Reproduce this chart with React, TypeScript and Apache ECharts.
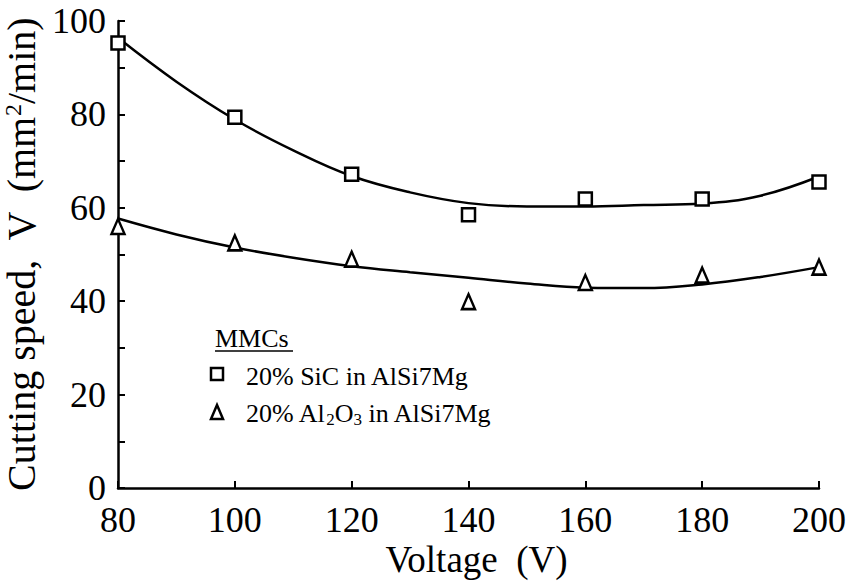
import React, { useEffect, useRef } from "react";
import * as echarts from "echarts";

const voltages = [80, 100, 120, 140, 160, 180, 200];
const sicMeasured = [95.3, 79.4, 67.2, 58.5, 61.9, 61.9, 65.5];
const al2o3Measured = [56.0, 52.5, 49.0, 39.9, 44.0, 45.6, 47.3];

const fitVoltages = [80, 90, 100, 110, 120, 130, 140, 150, 160, 170, 180, 190, 200];
const sicFit = [96.4, 87.0, 78.9, 72.3, 66.8, 63.3, 61.0, 60.3, 60.3, 60.6, 60.9, 62.6, 66.7];
const al2o3Fit = [57.7, 54.3, 51.5, 49.3, 47.5, 46.2, 45.0, 43.8, 42.9, 42.8, 43.6, 45.2, 47.3];

const xTicks = { min: 80, max: 200, interval: 20 };
const yTicks = { min: 0, max: 100, interval: 10, labelEvery: 20 };

const FONT = "Liberation Serif";

export default function App() {
  const ref = useRef<HTMLDivElement>(null);
  useEffect(() => {
    if (!ref.current) return;
    const chart = echarts.init(ref.current, null, { renderer: "svg" });
    const pair = (xs: number[], ys: number[]) => xs.map((x, i) => [x, ys[i]]);
    const markerStyle = { color: "#ffffff", borderColor: "#000000", borderWidth: 2.5, opacity: 1 };
    chart.setOption({
      animation: false,
      backgroundColor: "#ffffff",
      textStyle: { fontFamily: FONT, color: "#000" },
      grid: { left: 118, right: 29, top: 21, bottom: 95, containLabel: false, outerBoundsMode: "none" },
      xAxis: {
        type: "value",
        min: xTicks.min,
        max: xTicks.max,
        interval: xTicks.interval,
        name: "Voltage  (V)",
        nameLocation: "middle",
        nameGap: 53,
        nameMoveOverlap: false,
        nameTextStyle: { fontFamily: FONT, fontSize: 37, lineHeight: 37, color: "#000", padding: [0, 0, 0, 16] },
        axisLine: { show: true, onZero: false, lineStyle: { color: "#000", width: 2.5 } },
        axisTick: { show: true, inside: true, length: 7, lineStyle: { color: "#000", width: 2 } },
        axisLabel: { fontFamily: FONT, fontSize: 36, lineHeight: 30, color: "#000", margin: 17 },
        splitLine: { show: false },
      },
      yAxis: {
        type: "value",
        min: yTicks.min,
        max: yTicks.max,
        interval: yTicks.interval,
        name: "{a|Cutting speed,  V  (mm}{b|2}{a|/min)}",
        nameLocation: "middle",
        nameRotate: 90,
        nameGap: 64,
        nameTextStyle: {
          rich: {
            a: { fontFamily: FONT, fontSize: 40, color: "#000", lineHeight: 40 },
            b: { fontFamily: FONT, fontSize: 24, color: "#000", lineHeight: 24, verticalAlign: "top" },
          },
        },
        axisLine: { show: true, onZero: false, lineStyle: { color: "#000", width: 2.5 } },
        axisTick: { show: true, inside: true, length: 7, lineStyle: { color: "#000", width: 2 } },
        axisLabel: {
          fontFamily: FONT,
          fontSize: 36,
          color: "#000",
          margin: 12,
          formatter: (v: number) => (v % yTicks.labelEvery === 0 ? String(v) : ""),
        },
        splitLine: { show: false },
      },
      series: [
        {
          name: "SiC fit",
          type: "line",
          data: pair(fitVoltages, sicFit),
          smooth: 0.4,
          showSymbol: false,
          lineStyle: { color: "#000", width: 2.5 },
          z: 2,
        },
        {
          name: "Al2O3 fit",
          type: "line",
          data: pair(fitVoltages, al2o3Fit),
          smooth: 0.4,
          showSymbol: false,
          lineStyle: { color: "#000", width: 2.5 },
          z: 2,
        },
        {
          name: "20% SiC in AlSi7Mg",
          type: "scatter",
          data: pair(voltages, sicMeasured),
          symbol: "rect",
          symbolSize: 13,
          itemStyle: markerStyle,
          z: 3,
        },
        {
          name: "20% Al2O3 in AlSi7Mg",
          type: "scatter",
          data: pair(voltages, al2o3Measured),
          symbol: "triangle",
          symbolSize: [13, 15],
          itemStyle: markerStyle,
          z: 3,
        },
      ],
      graphic: [
        {
          type: "text",
          x: 215,
          y: 338,
          style: { text: "MMCs", fontFamily: FONT, fontSize: 26, fill: "#000", verticalAlign: "middle" },
        },
        {
          type: "line",
          shape: { x1: 215, y1: 351, x2: 293, y2: 351 },
          style: { stroke: "#000", lineWidth: 1.3 },
        },
        {
          type: "rect",
          shape: { x: 211, y: 368, width: 12, height: 12 },
          style: { fill: "#fff", stroke: "#000", lineWidth: 2.5 },
        },
        {
          type: "text",
          x: 246,
          y: 376,
          style: { text: "20% SiC in AlSi7Mg", fontFamily: FONT, fontSize: 26, fill: "#000", verticalAlign: "middle" },
        },
        {
          type: "polygon",
          shape: { points: [[217, 405], [211, 419], [223, 419]] },
          style: { fill: "#fff", stroke: "#000", lineWidth: 2.5 },
        },
        {
          type: "text",
          x: 246,
          y: 413,
          style: {
            text: "{a|20% Al}{s|2}{a|O}{s|3}{a| in AlSi7Mg}",
            verticalAlign: "middle",
            rich: {
              a: { fontFamily: FONT, fontSize: 26, fill: "#000", lineHeight: 30 },
              s: { fontFamily: FONT, fontSize: 17, fill: "#000", lineHeight: 17, verticalAlign: "bottom" },
            },
          },
        },
      ],
    });
    return () => chart.dispose();
  }, []);
  return (
    <div
      ref={ref}
      style={{ position: "fixed", left: 0, top: 0, width: 848, height: 583, background: "#fff" }}
    />
  );
}
